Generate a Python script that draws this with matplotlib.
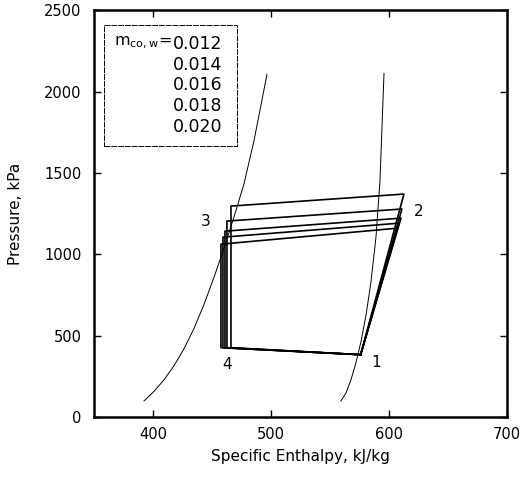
import matplotlib
matplotlib.use("Agg")
import matplotlib.pyplot as plt
from matplotlib.patches import Rectangle

# saturation curves (h in kJ/kg, p in kPa)
liq_h = [392.4, 400.8, 409.3, 417.8, 426.3, 434.7, 443.2, 451.7, 460.2, 468.6, 477.1, 485.6, 496.6]
liq_p = [99, 157, 228, 315, 420, 543, 691, 858, 1037, 1228, 1432, 1697, 2105]
vap_h = [559.3, 563.6, 567.8, 572.0, 576.3, 580.5, 584.7, 589.0, 592.4, 595.8]
vap_p = [99, 148, 228, 333, 463, 623, 827, 1105, 1451, 2111]

# cycle state points, one entry per water-side charge
m_cow = ["0.012", "0.014", "0.016", "0.018", "0.020"]
h1 = [576, 576, 576, 576, 576]
p1 = [383, 383, 383, 383, 383]
h2 = [606.8, 608.5, 610.2, 611.0, 612.7]
p2 = [1160, 1191, 1222, 1278, 1370]
h3 = [457.6, 459.3, 461.0, 462.7, 466.1]
p3 = [1062, 1105, 1142, 1204, 1296]
p4 = [426, 426, 426, 426, 426]

fig = plt.figure(figsize=(5.21, 4.83), dpi=100)
ax = fig.add_axes([0.1804, 0.1366, 0.7926, 0.8424])

ax.plot(liq_h, liq_p, color="black", lw=0.7)
ax.plot(vap_h, vap_p, color="black", lw=0.7)

for i in range(len(m_cow)):
    hs = [h1[i], h2[i], h3[i], h3[i], h1[i]]
    ps = [p1[i], p2[i], p3[i], p4[i], p1[i]]
    ax.plot(hs, ps, color="black", lw=1.2)

ax.text(445, 1204, "3", fontsize=11, ha="center", va="center")
ax.text(625, 1265, "2", fontsize=11, ha="center", va="center")
ax.text(462.7, 321, "4", fontsize=11, ha="center", va="center")
ax.text(589, 333, "1", fontsize=11, ha="center", va="center")

# legend box
ax.add_patch(Rectangle((358.5, 1667), 112.7, 740, fill=False, lw=0.7,
                       edgecolor="black", ls=(0, (6, 1))))
rows = [2290, 2160, 2037, 1913, 1784]
for i, m in enumerate(m_cow):
    ax.text(458.5, rows[i], m, fontsize=12.5, ha="right", va="center")
ax.text(416, rows[0] + 10, r"m$_{\rm co,w}$=", fontsize=11.5, ha="right", va="center")

ax.set_xlim(350, 700)
ax.set_ylim(0, 2500)
ax.set_xticks([400, 500, 600, 700])
ax.set_yticks([0, 500, 1000, 1500, 2000, 2500])
ax.tick_params(direction="in", length=5, width=1, top=True, right=True,
               labelsize=10.5, pad=7)
ax.tick_params(axis="y", pad=9)
for s in ax.spines.values():
    s.set_linewidth(1.8)

ax.set_xlabel("Specific Enthalpy, kJ/kg", fontsize=11, labelpad=5)
ax.set_ylabel("Pressure, kPa", fontsize=11, labelpad=15)

fig.savefig("out.png", dpi=100)
